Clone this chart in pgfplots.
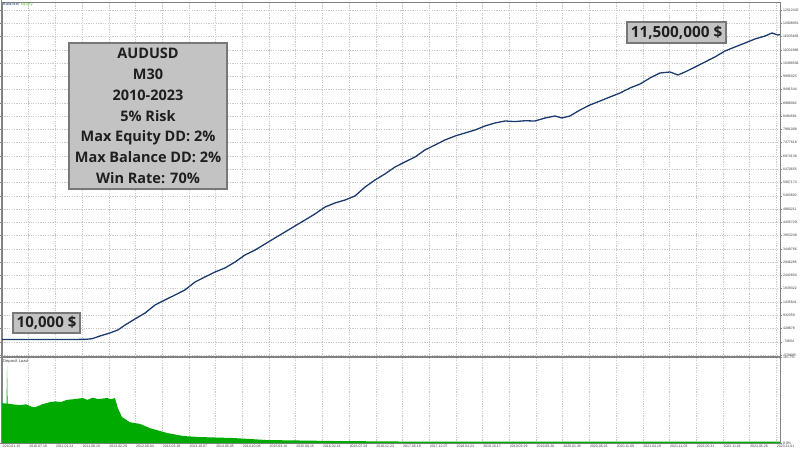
\documentclass[border=0pt]{standalone}
\usepackage{fontspec}
\setmainfont{DejaVu Sans}
\newfontfamily\boxfont{Open Sans}
\newfontfamily\tickfont{Liberation Sans}
\usepackage{pgfplots}
\pgfplotsset{compat=1.18}
\definecolor{balblue}{RGB}{27,58,112}
\definecolor{loadgreen}{RGB}{0,170,0}
\definecolor{eqgreen}{RGB}{90,190,60}
\definecolor{gridc}{RGB}{200,200,200}
\definecolor{framec}{RGB}{130,130,130}
\definecolor{boxfill}{RGB}{195,195,195}
\definecolor{boxedge}{RGB}{120,120,120}
\definecolor{lblc}{RGB}{60,60,60}
\begin{document}
\begin{tikzpicture}[x=1pt,y=1pt]
\useasboundingbox (0,0) rectangle (800,450);
\fill[white] (0,0) rectangle (800,450);
% ---------- top panel: balance ----------
\begin{axis}[
  at={(2pt,93pt)}, anchor=south west, scale only axis,
  width=778pt, height=355pt,
  xmin=0, xmax=29.14, ymin=-653199, ymax=12815962,
  axis line style={draw=framec, line width=0.6pt},
  xtick={0,...,29}, xticklabels={}, major x tick style={draw=none},
  ytick={12512432,12008951,11505469,11001988,10498506,9995025,9491544,8988062,8484581,7981099,7477618,6974136,6470655,5967174,5463692,4960211,4456729,3953248,3449766,2946285,2442804,1939322,1435841,932359,428878,-74604,-578085},
  yticklabels={12512432,12008951,11505469,11001988,10498506,9995025,9491544,8988062,8484581,7981099,7477618,6974136,6470655,5967174,5463692,4960211,4456729,3953248,3449766,2946285,2442804,1939322,1435841,932359,428878,-74604,-578085},
  yticklabel pos=right,
  yticklabel style={font=\tickfont\fontsize{3.5}{4}\selectfont, text=lblc, anchor=west, inner sep=0.3pt, xshift=0.8pt},
  major y tick style={draw=framec, line width=0.4pt},
  major tick length=1.8pt, tick align=outside,
  grid=major, major grid style={gridc, dash pattern=on 1.2pt off 1.2pt, line width=0.5pt},
  clip=true,
]
\addplot[balblue, line width=1.3pt, line join=round] coordinates {
(0.00,10000) (1.50,12000) (3.11,15000) (3.37,40000) (3.67,143568) (4.04,257392)
(4.34,371216) (4.61,560922) (4.98,788570) (5.36,1016218) (5.73,1319748)
(6.10,1509455) (6.48,1699161) (6.85,1888868) (7.23,2192398) (7.60,2382105)
(7.98,2571811) (8.35,2723577) (8.73,2951224) (9.10,3216813) (9.48,3406520)
(9.85,3634168) (10.22,3861816) (10.60,4089463) (10.97,4317111) (11.35,4544759)
(11.72,4772407) (12.10,5037996) (12.47,5189761) (12.85,5303585) (13.22,5455350)
(13.60,5796822) (13.97,6062411) (14.34,6290059) (14.72,6555648) (15.09,6745354)
(15.47,6935061) (15.84,7200650) (16.22,7390356) (16.59,7580063) (16.97,7731828)
(17.34,7845652) (17.72,7959476) (18.09,8111241) (18.46,8225065) (18.84,8300948)
(19.21,8280000) (19.59,8310000) (19.96,8300948) (20.34,8414772) (20.71,8490654)
(20.97,8414772) (21.27,8490654) (21.65,8718302) (22.02,8908008) (22.40,9059774)
(22.77,9211539) (23.15,9363304) (23.52,9553011) (23.90,9704776) (24.27,9932424)
(24.64,10122130) (25.02,10160071) (25.32,10046247) (25.58,10160071) (25.96,10349778)
(26.33,10539484) (26.70,10729191) (27.08,10956839) (27.45,11108604) (27.83,11260369)
(28.20,11412134) (28.58,11525958) (28.84,11639782) (29.06,11563899) (29.14,11580000)
};
\end{axis}
% ---------- bottom panel: deposit load ----------
\begin{axis}[
  at={(2pt,7pt)}, anchor=south west, scale only axis,
  width=778pt, height=86pt,
  xmin=0, xmax=29.14, ymin=0, ymax=115.7,
  axis line style={draw=framec, line width=0.6pt},
  xtick={0,...,29},
  xticklabels={2010.01.15,2010.07.19,2011.01.24,2011.08.16,2012.02.29,2012.09.04,2013.03.28,2013.10.07,2014.05.05,2014.10.08,2015.03.16,2015.09.15,2016.02.24,2016.07.29,2016.12.23,2017.06.19,2017.12.07,2018.04.23,2018.10.17,2019.03.29,2019.09.20,2020.01.30,2020.06.26,2020.11.09,2021.04.19,2021.11.03,2022.05.31,2022.11.01,2023.05.26,2023.11.01},
  xticklabel style={font=\tickfont\fontsize{3.5}{4}\selectfont, text=lblc, anchor=north west, inner sep=0.5pt, yshift=0.3pt},
  major x tick style={draw=none},
  ytick={0,115.7}, yticklabels={0.0\%,115.7\%},
  yticklabel pos=right,
  yticklabel style={font=\tickfont\fontsize{3.5}{4}\selectfont, text=lblc, anchor=west, inner sep=0.3pt, xshift=0.8pt},
  major y tick style={draw=framec, line width=0.4pt},
  major tick length=1.8pt, tick align=outside,
  xmajorgrids, major grid style={gridc, dash pattern=on 1.2pt off 1.2pt, line width=0.5pt},
]
\addplot[fill=loadgreen, draw=none] coordinates {
(0.00,53.8) (0.15,53) (0.17,53) (0.19,103.6) (0.21,53) (0.40,52) (0.67,51)
(0.90,52) (1.10,49) (1.24,48) (1.50,52) (1.80,55) (2.00,56) (2.20,55)
(2.43,58) (2.70,59) (3.03,60.5) (3.20,58) (3.40,61) (3.60,59) (3.93,60.5)
(4.10,59) (4.23,60.5) (4.34,47) (4.49,35) (4.79,28) (5.17,25.6) (5.54,20)
(6.18,13.5) (6.78,9.4) (7.42,8) (8.65,6.7) (9.93,4) (12.40,2.7) (14.91,2)
(20.00,2) (25.00,2) (29.14,2)
} \closedcycle;
\end{axis}
% separator and frame
\draw[framec, line width=1.6pt] (2,93) -- (780,93);
\draw[framec, line width=0.6pt] (1,450) -- (1,7);
% panel titles
\node[anchor=north west, inner sep=0pt, font=\fontsize{3.8}{4.2}\selectfont] at (3,447.5)
  {\textcolor{balblue}{Balance}\textcolor{lblc}{ / }\textcolor{eqgreen}{Equity}};
\node[anchor=north west, inner sep=0pt, font=\fontsize{3.8}{4.2}\selectfont, text=lblc] at (3,91)
  {Deposit Load};
% annotation boxes
\node[draw=boxedge, line width=1.5pt, fill=boxfill, minimum width=158pt, minimum height=146pt,
  inner sep=0pt, align=center, text=black!88,
  font=\boxfont\bfseries\fontsize{14.5}{20.8}\selectfont] at (148,334)
  {AUDUSD\\M30\\2010-2023\\5\% Risk\\Max Equity DD: 2\%\\Max Balance DD: 2\%\\Win Rate: 70\%};
\node[draw=boxedge, line width=1.5pt, fill=boxfill, minimum width=67pt, minimum height=20pt,
  inner sep=0pt, text=black!88, font=\boxfont\bfseries\fontsize{15}{18}\selectfont] at (46.5,127)
  {10,000 \$};
\node[draw=boxedge, line width=1.5pt, fill=boxfill, minimum width=99pt, minimum height=21pt,
  inner sep=0pt, text=black!88, font=\boxfont\bfseries\fontsize{15.3}{18}\selectfont] at (676.5,417.5)
  {11,500,000 \$};
\end{tikzpicture}
\end{document}
